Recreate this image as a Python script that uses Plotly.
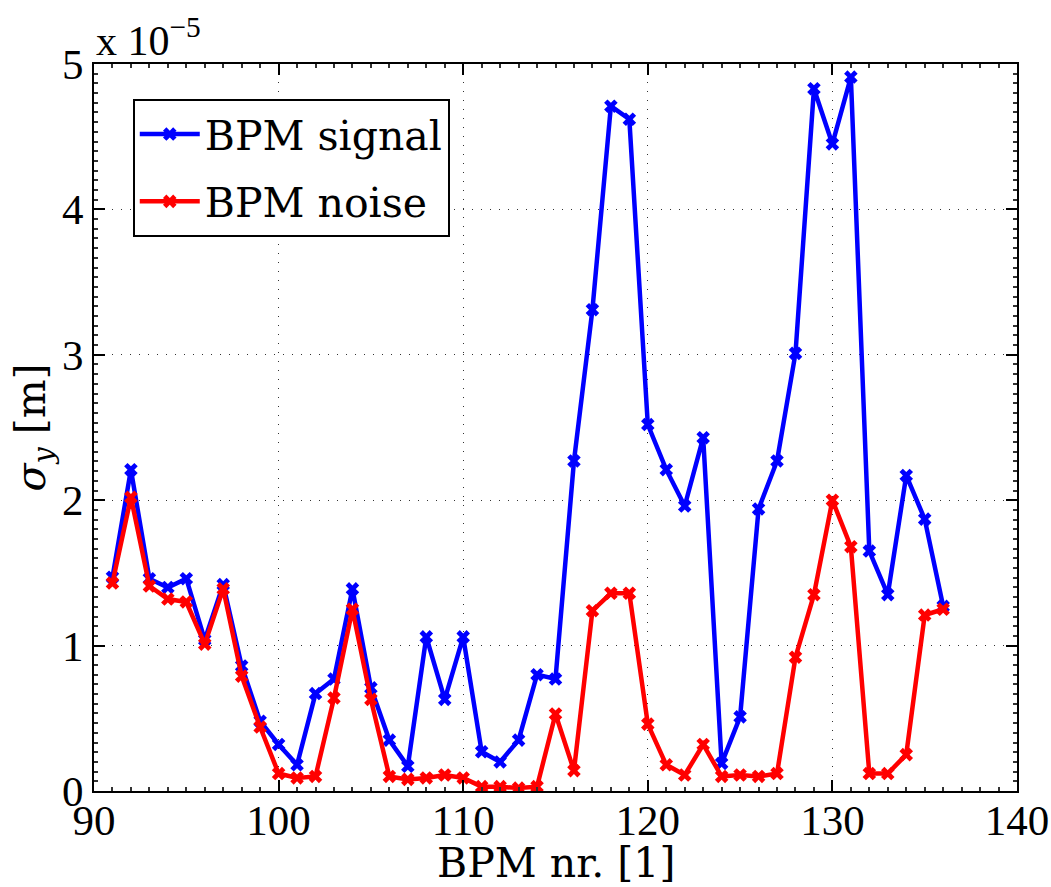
import plotly.graph_objects as go

# BPM index
bpm = list(range(91, 137))

# sigma_y values in units of 1e-5 m
signal = [1.47, 2.21, 1.46, 1.40, 1.46, 1.04, 1.42, 0.86, 0.48, 0.32,
          0.18, 0.67, 0.77, 1.39, 0.71, 0.35, 0.17, 1.06, 0.63, 1.06,
          0.27, 0.20, 0.35, 0.80, 0.77, 2.27, 3.31, 4.71, 4.62, 2.52,
          2.21, 1.96, 2.43, 0.19, 0.51, 1.94, 2.27, 3.01, 4.83, 4.45,
          4.91, 1.65, 1.35, 2.17, 1.87, 1.27]
noise = [1.43, 2.02, 1.41, 1.32, 1.30, 1.01, 1.39, 0.79, 0.44, 0.12,
         0.09, 0.10, 0.64, 1.25, 0.63, 0.10, 0.08, 0.09, 0.11, 0.09,
         0.03, 0.03, 0.02, 0.03, 0.53, 0.14, 1.24, 1.36, 1.36, 0.46,
         0.18, 0.11, 0.32, 0.10, 0.11, 0.10, 0.12, 0.92, 1.35, 2.00,
         1.68, 0.12, 0.12, 0.25, 1.21, 1.25]

x_ticks = [90, 100, 110, 120, 130, 140]
y_ticks = [0, 1, 2, 3, 4, 5]
x_title = "BPM nr. [1]"
y_title = "<i>\u03c3</i><sub><i>y</i></sub> [m]"
exponent_label = "x 10<sup>\u22125</sup>"

TICK_FONT = dict(family="Liberation Serif", size=43, color="black")
LABEL_FONT = dict(family="DejaVu Serif", size=41, color="black")

fig = go.Figure()
fig.add_trace(go.Scatter(
    x=bpm, y=signal, mode="lines+markers", name="BPM signal",
    legendgroup="a",
    line=dict(color="#0000FF", width=4.5),
    marker=dict(symbol="x", size=12, color="#0000FF"),
))
fig.add_trace(go.Scatter(
    x=bpm, y=noise, mode="lines+markers", name="BPM noise",
    legendgroup="b",
    line=dict(color="#FF0000", width=4.5),
    marker=dict(symbol="x", size=12, color="#FF0000"),
))

axis_common = dict(
    showline=True, linecolor="black", linewidth=2, mirror="ticks",
    ticks="inside", ticklen=11, tickwidth=1.5, tickcolor="black",
    showgrid=True, gridcolor="#333333", gridwidth=1, griddash="1px,8px",
    zeroline=False, tickfont=TICK_FONT,
)

fig.update_xaxes(
    range=[90, 140], tickvals=x_ticks, ticktext=[str(v) for v in x_ticks],
    ticklabelstandoff=-10,
    minor=dict(dtick=1, ticks="inside", ticklen=4, tickcolor="#333333", showgrid=False),
    **axis_common,
)
fig.update_yaxes(
    range=[0, 5], tickvals=y_ticks, ticktext=[str(v) for v in y_ticks],
    title=dict(text=y_title, font=LABEL_FONT, standoff=4),
    minor=dict(dtick=1/15, ticks="inside", ticklen=4, tickcolor="#333333", showgrid=False),
    **axis_common,
)

# x-axis title placed below the tick labels
fig.add_annotation(
    text=x_title, xref="paper", yref="paper", x=0.5, y=0.0,
    xanchor="center", yanchor="middle", showarrow=False, yshift=-72,
    font=LABEL_FONT,
)

fig.add_annotation(
    text=exponent_label, xref="paper", yref="paper", x=0.0, y=1.0,
    xanchor="left", yanchor="bottom", showarrow=False, yshift=-2,
    font=dict(family="Liberation Serif", size=42, color="black"),
)

fig.update_layout(
    width=1051, height=887,
    margin=dict(l=94, r=34, t=64, b=96, autoexpand=False),
    plot_bgcolor="white", paper_bgcolor="white",
    showlegend=True,
    legend=dict(
        x=0.042, y=0.952, xanchor="left", yanchor="top",
        bgcolor="white", bordercolor="black", borderwidth=2,
        font=LABEL_FONT, itemwidth=60, tracegroupgap=11,
        traceorder="grouped",
    ),
)

fig.write_html("out.html", config={"displayModeBar": False},
               post_script="document.body.style.margin='0';")
